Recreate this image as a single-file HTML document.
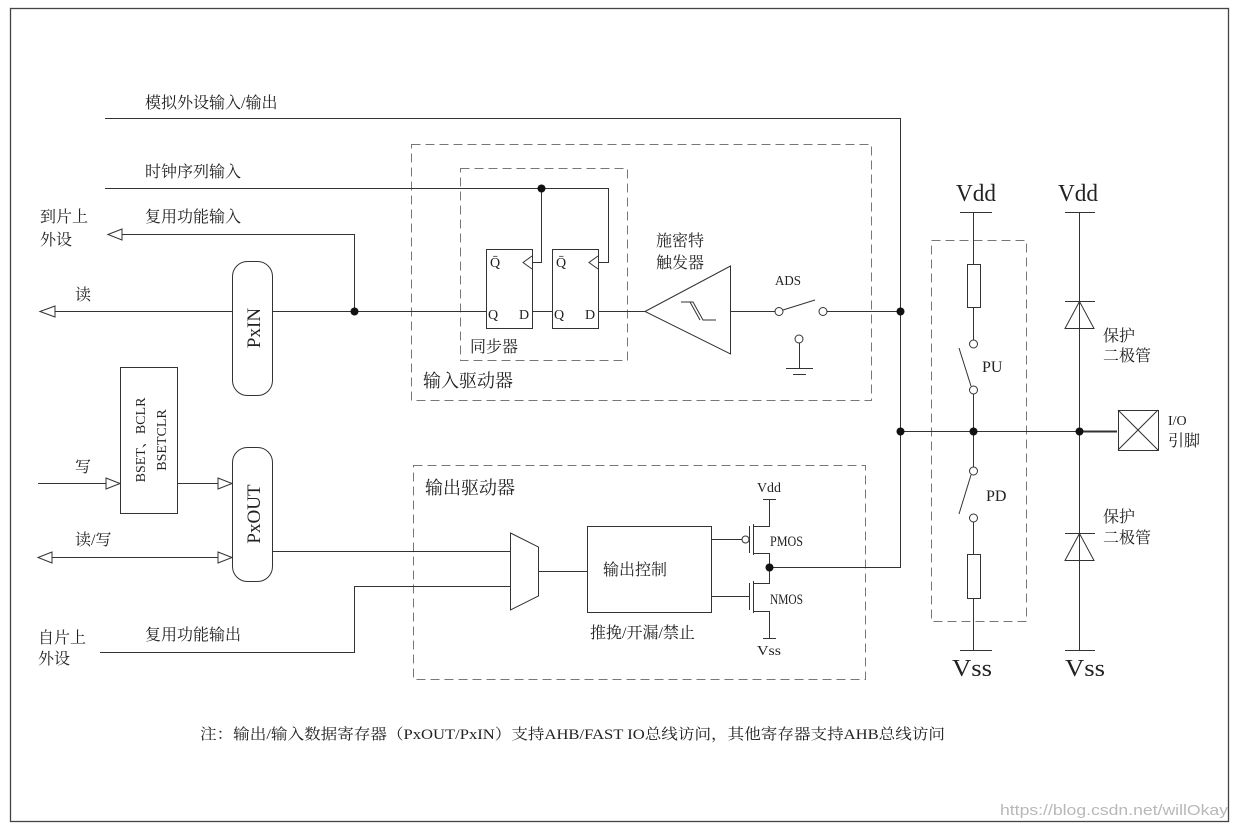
<!DOCTYPE html>
<html><head><meta charset="utf-8"><style>
html,body{margin:0;padding:0;background:#fff;}
svg{display:block;}
text{font-family:"Liberation Serif","Noto Serif CJK SC",serif;fill:#222;}
.c{font-family:"Liberation Sans","Noto Sans CJK SC",sans-serif;}
</style></head><body>
<svg width="1239" height="830" viewBox="0 0 1239 830" xmlns="http://www.w3.org/2000/svg">
<rect x="0" y="0" width="1239" height="830" fill="#fff"/>
<rect x="10.5" y="8.5" width="1218" height="813" fill="none" stroke="#444" stroke-width="1.3"/>
<g stroke="#333" stroke-width="1" fill="none">
<g stroke="#777" stroke-dasharray="9,5">
<rect x="411.5" y="144.5" width="460" height="256"/>
<rect x="460.5" y="168.5" width="167" height="192"/>
<rect x="413.5" y="465.5" width="452" height="214"/>
<rect x="931.5" y="240.5" width="95" height="381"/>
</g>
<polyline points="105,118.5 900.5,118.5 900.5,567.5 769,567.5"/>
<polyline points="105,188.5 608.5,188.5 608.5,262.5 598,262.5"/>
<polyline points="541.5,188.5 541.5,262.5 532,262.5"/>
<polyline points="110,234.5 354.5,234.5 354.5,311"/>
<polygon points="108,234.5 122,229 122,240" fill="#fff"/>
<line x1="52" y1="311.5" x2="232" y2="311.5"/>
<polygon points="40,311.5 55,306 55,317" fill="#fff"/>
<line x1="272" y1="311.5" x2="486" y2="311.5"/>
<rect x="232.5" y="261.5" width="40" height="134" rx="15" fill="#fff"/>
<rect x="486.5" y="249.5" width="46" height="79"/>
<rect x="552.5" y="249.5" width="46" height="79"/>
<polyline points="532,256 523,262.5 532,269"/>
<polyline points="598,256 589,262.5 598,269"/>
<line x1="532" y1="311.5" x2="552" y2="311.5"/>
<line x1="598" y1="311.5" x2="645" y2="311.5"/>
<polygon points="645,311.5 730.5,266 730.5,354"/>
<polyline points="681,302 693,302 703,320 716,320"/>
<line x1="690" y1="302" x2="700" y2="320"/>
<line x1="730" y1="311.5" x2="775" y2="311.5"/>
<circle cx="779" cy="311.5" r="4"/>
<circle cx="823" cy="311.5" r="4"/>
<line x1="783" y1="310" x2="815" y2="300"/>
<line x1="827" y1="311.5" x2="900" y2="311.5"/>
<circle cx="799" cy="339" r="4"/>
<line x1="799.5" y1="343" x2="799.5" y2="368"/>
<line x1="786" y1="368.5" x2="813" y2="368.5"/>
<line x1="793" y1="374.5" x2="806" y2="374.5"/>
<line x1="38" y1="483.5" x2="108" y2="483.5"/>
<polygon points="120,483.5 106,478 106,489" fill="#fff"/>
<rect x="120.5" y="367.5" width="57" height="146"/>
<line x1="177" y1="483.5" x2="220" y2="483.5"/>
<polygon points="232,483.5 218,478 218,489" fill="#fff"/>
<rect x="232.5" y="447.5" width="40" height="134" rx="15" fill="#fff"/>
<line x1="50" y1="557.5" x2="220" y2="557.5"/>
<polygon points="38,557.5 52,552 52,563" fill="#fff"/>
<polygon points="232,557.5 218,552 218,563" fill="#fff"/>
<line x1="272" y1="551.5" x2="510" y2="551.5"/>
<polyline points="100,652.5 354.5,652.5 354.5,586.5 510,586.5"/>
<polygon points="510.5,533 538.5,547 538.5,596 510.5,610"/>
<line x1="538" y1="571.5" x2="587" y2="571.5"/>
<rect x="587.5" y="526.5" width="124" height="86"/>
<line x1="711" y1="539.5" x2="742" y2="539.5"/>
<circle cx="745.5" cy="539.5" r="3.5"/>
<line x1="749.5" y1="526" x2="749.5" y2="553"/>
<line x1="753.5" y1="524" x2="753.5" y2="555"/>
<polyline points="753,526.5 769.5,526.5 769.5,499"/>
<line x1="763" y1="499.5" x2="776" y2="499.5"/>
<polyline points="753,553.5 769.5,553.5 769.5,583.5 753,583.5"/>
<line x1="711" y1="596.5" x2="749" y2="596.5"/>
<line x1="749.5" y1="583" x2="749.5" y2="610"/>
<line x1="753.5" y1="581" x2="753.5" y2="613"/>
<polyline points="753,611.5 769.5,611.5 769.5,638"/>
<line x1="763" y1="638.5" x2="776" y2="638.5"/>
<line x1="960" y1="212.5" x2="992" y2="212.5"/>
<line x1="973.5" y1="212" x2="973.5" y2="264"/>
<rect x="967.5" y="264.5" width="13" height="43"/>
<line x1="973.5" y1="307" x2="973.5" y2="340"/>
<circle cx="973.5" cy="344" r="4"/>
<line x1="959" y1="348" x2="971" y2="386"/>
<circle cx="973.5" cy="390" r="4"/>
<line x1="973.5" y1="394" x2="973.5" y2="467"/>
<circle cx="973.5" cy="471" r="4"/>
<line x1="971" y1="475" x2="959" y2="514"/>
<circle cx="973.5" cy="518" r="4"/>
<line x1="973.5" y1="522" x2="973.5" y2="554"/>
<rect x="967.5" y="554.5" width="13" height="44"/>
<line x1="973.5" y1="598" x2="973.5" y2="650"/>
<line x1="960" y1="650.5" x2="992" y2="650.5"/>
<line x1="1065" y1="212.5" x2="1095" y2="212.5"/>
<line x1="1079.5" y1="212" x2="1079.5" y2="650"/>
<line x1="1065" y1="650.5" x2="1095" y2="650.5"/>
<line x1="1065" y1="301.5" x2="1095" y2="301.5"/>
<polygon points="1079.5,301.5 1065,328.5 1094,328.5"/>
<line x1="1065" y1="533.5" x2="1095" y2="533.5"/>
<polygon points="1079.5,533.5 1065,560.5 1094,560.5"/>
<line x1="900" y1="431.5" x2="1117" y2="431.5"/>
<line x1="1079" y1="431.5" x2="1117" y2="431.5" stroke-width="2"/>
<rect x="1118.5" y="410.5" width="40" height="40"/>
<line x1="1118" y1="410" x2="1158" y2="450"/>
<line x1="1158" y1="410" x2="1118" y2="450"/>
</g>
<g fill="#111">
<circle cx="541.5" cy="188.5" r="4"/>
<circle cx="354.5" cy="311.5" r="4"/>
<circle cx="900.5" cy="311.5" r="4"/>
<circle cx="900.5" cy="431.5" r="4"/>
<circle cx="973.5" cy="431.5" r="4"/>
<circle cx="1079.5" cy="431.5" r="4"/>
<circle cx="769.5" cy="567.5" r="4"/>
</g>
<g font-size="16">
<text x="145" y="108">模拟外设输入/输出</text>
<text x="145" y="177">时钟序列输入</text>
<text x="145" y="222">复用功能输入</text>
<text x="40" y="222">到片上</text>
<text x="40" y="245">外设</text>
<text x="75" y="300">读</text>
<text x="75" y="472">写</text>
<text x="75" y="545">读/写</text>
<text x="145" y="640">复用功能输出</text>
<text x="38" y="643">自片上</text>
<text x="38" y="664">外设</text>
<text x="470" y="352">同步器</text>
<text x="656" y="246">施密特</text>
<text x="656" y="268">触发器</text>
<text x="775" y="285" font-size="14" textLength="26" lengthAdjust="spacingAndGlyphs">ADS</text>
<text x="423" y="387" font-size="18">输入驱动器</text>
<text x="425" y="494" font-size="18">输出驱动器</text>
<text x="603" y="575">输出控制</text>
<text x="590" y="638">推挽/开漏/禁止</text>
<text x="757" y="492" font-size="14" textLength="24" lengthAdjust="spacingAndGlyphs">Vdd</text>
<text x="757" y="655" font-size="14" textLength="24" lengthAdjust="spacingAndGlyphs">Vss</text>
<text x="770" y="546" font-size="15" textLength="33" lengthAdjust="spacingAndGlyphs">PMOS</text>
<text x="770" y="604" font-size="15" textLength="33" lengthAdjust="spacingAndGlyphs">NMOS</text>
<text x="982" y="372" font-size="16">PU</text>
<text x="986" y="501" font-size="16">PD</text>
<text x="956" y="201" font-size="24" textLength="40" lengthAdjust="spacingAndGlyphs">Vdd</text>
<text x="1058" y="201" font-size="24" textLength="40" lengthAdjust="spacingAndGlyphs">Vdd</text>
<text x="952" y="676" font-size="24" textLength="40" lengthAdjust="spacingAndGlyphs">Vss</text>
<text x="1065" y="676" font-size="24" textLength="40" lengthAdjust="spacingAndGlyphs">Vss</text>
<text x="1103" y="341">保护</text>
<text x="1103" y="361">二极管</text>
<text x="1103" y="522">保护</text>
<text x="1103" y="543">二极管</text>
<text x="1168" y="425" font-size="14">I/O</text>
<text x="1168" y="446">引脚</text>
<text x="490" y="267" font-size="14">Q̄</text>
<text x="556" y="267" font-size="14">Q̄</text>
<text x="488" y="319" font-size="14">Q</text>
<text x="519" y="319" font-size="14">D</text>
<text x="554" y="319" font-size="14">Q</text>
<text x="585" y="319" font-size="14">D</text>
<text x="200" y="739" font-size="15" textLength="745" lengthAdjust="spacingAndGlyphs">注：输出/输入数据寄存器（PxOUT/PxIN）支持AHB/FAST IO总线访问，其他寄存器支持AHB总线访问</text>
<text x="1000" y="815" font-size="15" style="fill:#b8b8b8" class="c" textLength="228" lengthAdjust="spacingAndGlyphs">https://blog.csdn.net/willOkay</text>
</g>
<text transform="translate(260,328) rotate(-90)" text-anchor="middle" font-size="19">PxIN</text>
<text transform="translate(260,514) rotate(-90)" text-anchor="middle" font-size="19">PxOUT</text>
<text transform="translate(145,440) rotate(-90)" text-anchor="middle" font-size="14">BSET、BCLR</text>
<text transform="translate(166,440) rotate(-90)" text-anchor="middle" font-size="14">BSETCLR</text>
</svg>
</body></html>
